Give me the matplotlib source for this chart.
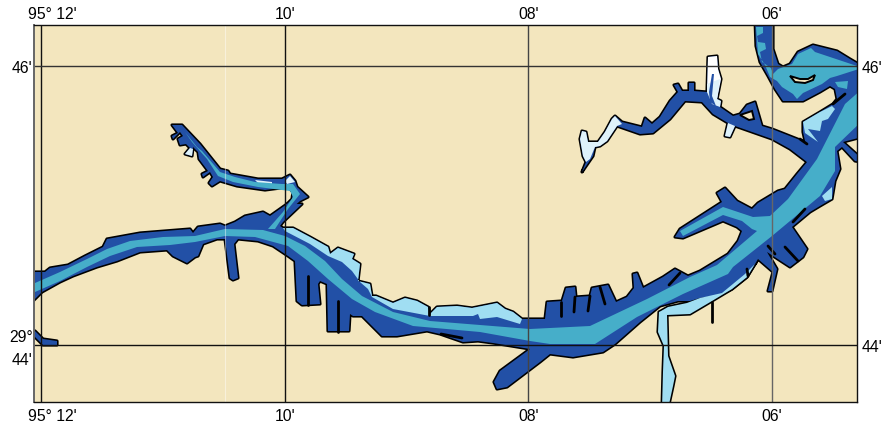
import matplotlib
matplotlib.use("Agg")
import matplotlib.pyplot as plt
from matplotlib.patches import Polygon
from matplotlib.transforms import ScaledTranslation

plt.rcParams['font.family'] = ['Liberation Sans', 'DejaVu Sans']

# Shapes; units are picture samples, calibrated to lon/lat below.
river_outline = [(30,273),(45,273),(50,269),(68,266),(85,257),(103,248),(107,240),(140,234),(190,230),(193,234),(198,228),(220,225),(225,227),(235,223),(245,217),(263,213),(270,217),(287,205),(302,205),(283,223),(280,227),(283,229),(293,229),(310,238),(328,248),(330,255),(338,249),(354,255),(352,260),(360,265),(358,282),(370,285),(372,297),(376,297),(393,304),(405,299),(417,302),(428,308),(430,315),(437,308),(457,307),(472,309),(497,304),(505,310),(513,313),(522,320),(545,320),(547,303),(562,302),(566,289),(575,288),(576,298),(590,297),(592,289),(608,286),(616,303),(627,298),(634,289),(633,275),(637,274),(643,289),(663,278),(675,270),(688,277),(700,272),(728,255),(738,242),(742,232),(737,228),(723,222),(683,239),(675,238),(680,230),(722,203),(717,194),(725,189),(737,202),(752,210),(758,204),(773,195),(778,192),(785,190),(797,175),(807,163),(797,150),(805,142),(803,133),(803,123),(820,113),(833,105),(837,100),(835,90),(830,87),(820,93),(803,102),(783,102),(775,90),(768,77),(760,63),(756,47),(755,20),(773,20),(773,50),(778,65),(783,68),(790,65),(798,53),(813,46),(837,52),(850,60),(862,67),(862,138),(843,143),(862,160),(862,163),(855,162),(842,148),(837,152),(840,170),(835,182),(832,200),(820,207),(810,213),(792,228),(807,250),(803,258),(790,268),(767,253),(777,270),(772,292),(768,292),(773,273),(758,260),(747,278),(732,290),(720,296),(700,299),(690,302),(678,302),(660,307),(640,323),(615,345),(603,353),(573,358),(550,355),(540,363),(507,388),(497,390),(494,383),(500,372),(530,350),(493,344),(478,342),(463,343),(440,335),(427,332),(397,337),(382,337),(362,317),(353,317),(350,315),(349,332),(328,332),(327,285),(320,282),(318,285),(320,305),(302,306),(297,302),(295,262),(288,257),(273,247),(258,242),(238,240),(234,245),(238,279),(233,281),(230,279),(225,240),(217,240),(203,245),(198,257),(195,258),(187,264),(173,257),(167,251),(140,253),(117,262),(97,268),(73,277),(60,283),(42,293),(30,305)]

nw_arm = [(172,126),(182,126),(200,145),(220,170),(228,172),(230,175),(258,180),(282,180),(290,176),(295,182),(297,188),(308,198),(300,202),(282,218),(270,228),(268,222),(285,207),(292,200),(293,193),(288,188),(265,191),(237,187),(220,182),(212,187),(209,184),(213,178),(210,173),(203,178),(202,175),(208,172),(199,160),(198,153),(193,148),(192,157),(185,155),(190,149),(186,145),(180,146),(178,140),(183,137),(180,133),(173,140),(172,137),(178,134)]

ne_arm = [(805,143),(772,130),(762,127),(755,103),(747,106),(740,115),(733,117),(720,108),(721,102),(717,100),(721,80),(718,70),(717,57),(708,58),(707,93),(694,92),(694,84),(689,84),(689,92),(682,92),(678,85),(674,86),(678,93),(670,102),(660,118),(652,125),(645,119),(642,128),(622,123),(615,117),(612,120),(605,133),(598,143),(588,143),(586,133),(582,132),(580,140),(583,157),(586,163),(582,173),(593,157),(595,148),(600,147),(607,142),(617,127),(640,135),(653,134),(670,120),(685,102),(702,103),(713,115),(728,124),(725,137),(730,138),(735,127),(772,140),(790,150),(807,163)]

side_channel = [(661,312),(668,308),(687,304),(700,299),(722,294),(745,275),(755,265),(758,260),(747,278),(732,290),(712,302),(690,315),(667,316),(668,357),(675,377),(673,387),(668,410),(662,410),(663,373),(664,347),(658,333),(659,313)]

sw_piece = [(30,330),(35,332),(43,340),(57,342),(57,346),(43,346),(35,338),(30,335)]

pale_far_west = [(586,133),(582,132),(580,140),(583,157),(586,163),(590,160),(595,148),(600,147),(607,142),(617,127),(622,125),(615,117),(612,120),(605,133),(598,143),(588,143)]
white_tube = [(708,58),(717,57),(718,70),(721,80),(717,100),(707,93)]
pale_tube = [(707,85),(720,80),(717,100),(721,102),(720,108),(712,105),(707,93)]
streak_tube = [(712,75),(714,75),(712,97),(716,107),(710,103),(709,93)]
pale_stub = [(728,124),(735,127),(730,138),(725,137)]
nw_pale_blob = [(290,177),(295,183),(287,185),(285,182)]
nw_pale_dash = [(255,181),(272,183),(272,185),(258,184)]
nw_pale_dock = [(193,150),(192,157),(185,155),(190,149)]

light_north = [(283,229),(293,229),(310,238),(328,248),(330,255),(338,249),(354,255),(352,260),(360,265),(358,282),(370,285),(372,297),(376,297),(393,304),(405,299),(417,302),(428,308),(430,315),(437,308),(457,307),(472,309),(497,304),(505,310),(513,313),(522,320),(520,325),(497,318),(480,320),(478,315),(473,317),(430,317),(393,310),(372,298),(368,290),(360,283),(352,272),(342,263),(328,257),(310,245),(285,232)]
light_east = [(803,123),(820,113),(832,107),(835,110),(828,120),(822,122),(820,132),(808,130),(818,143),(805,134)]
light_east2 = [(822,197),(832,188),(832,200),(825,202)]

channel_main = [(30,286),(35,284),(60,273),(87,260),(107,250),(130,242),(163,238),(195,237),(225,230),(263,231),(285,237),(305,247),(325,262),(342,280),(362,297),(393,313),(430,322),(530,330),(590,327),(647,300),(690,278),(717,266),(757,232),(752,230),(742,222),(723,216),(683,237),(680,232),(723,208),(753,218),(770,217),(788,200),(817,160),(845,105),(862,90),(862,122),(835,148),(835,172),(820,197),(772,237),(733,268),(728,275),(683,295),(637,318),(595,345),(550,345),(530,342),(480,333),(413,327),(375,313),(352,300),(328,280),(308,262),(288,247),(255,238),(225,237),(195,243),(170,246),(137,248),(110,257),(87,268),(60,282),(35,293),(30,296)]

channel_nw = [(185,133),(197,148),(202,152),(220,173),(235,178),(255,183),(282,185),(293,185),(300,195),(288,210),(275,230),(268,230),(283,213),(293,198),(290,192),(258,188),(233,183),(218,177),(207,160),(192,143)]

channel_bend = [(756,28),(763,28),(763,34),(757,37),(758,43),(765,44),(766,50),(760,53),(762,63),(771,69),(773,75),(778,70),(792,65),(798,55),(811,49),(815,53),(830,58),(857,67),(862,69),(837,77),(830,79),(822,85),(803,94),(797,100),(793,95),(782,88),(777,82),(770,78),(765,66),(758,55)]

channel_se = [(835,83),(848,82),(847,90),(838,88)]

bend_island = [(790,77),(800,80),(808,80),(815,76),(813,81),(805,84),(795,83)]
triangle_island = [(740,116),(752,112),(754,120),(749,121)]

dock_lines = [[(308,277),(308,306)],[(338,302),(338,333)],[(561,303),(561,317)],[(575,298),(574,313)],[(590,297),(588,312)],[(600,288),(605,305)],[(680,274),(669,286)],[(785,248),(798,262)],[(768,247),(775,255)],[(747,270),(748,277)],[(805,210),(793,223)],[(441,335),(462,339)],[(429,308),(429,316)],[(712,303),(712,323)],[(833,105),(845,95)],[(800,140),(807,145)]]

lon_ticks = [-(95 + 12 / 60), -(95 + 10 / 60), -(95 + 8 / 60), -(95 + 6 / 60)]
lat_ticks = [29 + 44 / 60, 29 + 46 / 60]
top_labels = ["95° 12'", "10'", "08'", "06'"]
left_labels = ["29°\n44'", "46'"]
right_labels = ["44'", "46'"]

BG, DARK, MED, LIGHT, PALE = "#F3E6BE", "#2250A6", "#46AEC9", "#A0DEF2", "#DFF2FA"

# Calibration: gridline samples 41/285/529/772 and 67/346
def lonlat(pts):
    return [(lon_ticks[0] + (x - 41) * (lon_ticks[3] - lon_ticks[0]) / (772 - 41),
             lat_ticks[1] + (y - 67) * (lat_ticks[0] - lat_ticks[1]) / (346 - 67)) for x, y in pts]

W, H = 882, 427
fig = plt.figure(figsize=(W / 100, H / 100), dpi=100)
ax = fig.add_axes([34 / W, 1 - 403 / H, (857 - 34) / W, (403 - 26) / H])
x0, y0 = lonlat([(34, 403)])[0]
x1, y1 = lonlat([(857, 26)])[0]
ax.set_xlim(x0, x1)
ax.set_ylim(y0, y1)
ax.set_facecolor(BG)

water = [river_outline, nw_arm, ne_arm, side_channel, sw_piece]
for shp in water:
    ax.add_patch(Polygon(lonlat(shp), closed=True, fc="black", ec="black", lw=2.3, joinstyle="round", zorder=2))

def fill(shp, c, z):
    ax.add_patch(Polygon(lonlat(shp), closed=True, fc=c, ec="none", lw=0, zorder=z))

for shp in (river_outline, nw_arm, ne_arm, sw_piece):
    fill(shp, DARK, 3)
fill(side_channel, LIGHT, 3)
for shp in (light_north, light_east, light_east2):
    fill(shp, LIGHT, 4)
for shp in (pale_far_west, pale_stub, nw_pale_blob, nw_pale_dash, nw_pale_dock, pale_tube):
    fill(shp, PALE, 4)
fill(white_tube, "white", 3.5)
fill(streak_tube, DARK, 5)
for shp in (channel_main, channel_nw, channel_bend, channel_se):
    fill(shp, MED, 5)
for shp in (bend_island, triangle_island):
    ax.add_patch(Polygon(lonlat(shp), closed=True, fc=BG, ec="black", lw=1.4, zorder=6))
for shp in dock_lines:
    pts = lonlat(shp)
    ax.plot([p[0] for p in pts], [p[1] for p in pts], color="black", lw=2.0, solid_capstyle="round", zorder=6)

# faint seam running through the sheet at x = 225
seam = lonlat([(225, 26)])[0][0]
ax.axvline(seam, color="white", lw=0.8, alpha=0.45, zorder=7)

for lon, c in zip(lon_ticks, ["#111111", "#111111", "#444444", "#666666"]):
    ax.axvline(lon, color=c, lw=1.0, zorder=8)
for lat, c in zip(lat_ticks, ["#111111", "#333333"]):
    ax.axhline(lat, color=c, lw=1.0, zorder=8)

ax.set_xticks(lon_ticks, labels=top_labels)
ax.tick_params(axis="x", length=0, pad=4, labelsize=11.3, labelbottom=True, labeltop=True)
ax.set_yticks(lat_ticks, labels=left_labels)
ax.tick_params(axis="y", length=0, pad=1, labelsize=11.3, labelleft=True)
up = ScaledTranslation(0, 2.5 / 100, fig.dpi_scale_trans)
for lab in ax.get_yticklabels():
    lab.set_linespacing(1.65)
ax.yaxis.get_major_ticks()[0].label1.set_transform(ax.yaxis.get_major_ticks()[0].label1.get_transform() + up)
shift = ScaledTranslation(11.5 / 100, 0, fig.dpi_scale_trans)
down = ScaledTranslation(0, -1.5 / 100, fig.dpi_scale_trans)
for i, tick in enumerate(ax.xaxis.get_major_ticks()):
    tick.label2.set_transform(tick.label2.get_transform() + down)
    if i == 0:
        tick.label1.set_transform(tick.label1.get_transform() + shift)
        tick.label2.set_transform(tick.label2.get_transform() + shift)
sec = ax.secondary_yaxis("right")
sec.set_yticks(lat_ticks, labels=right_labels)
sec.tick_params(length=0, pad=3, labelsize=11.3)
sec.spines["right"].set_visible(False)
for s in ax.spines.values():
    s.set_linewidth(1.0)
    s.set_edgecolor("#111111")
    s.set_zorder(9)
ax.spines["left"].set_edgecolor("#666666")
ax.spines["left"].set_linewidth(1.4)

fig.savefig("out.png", dpi=100)
